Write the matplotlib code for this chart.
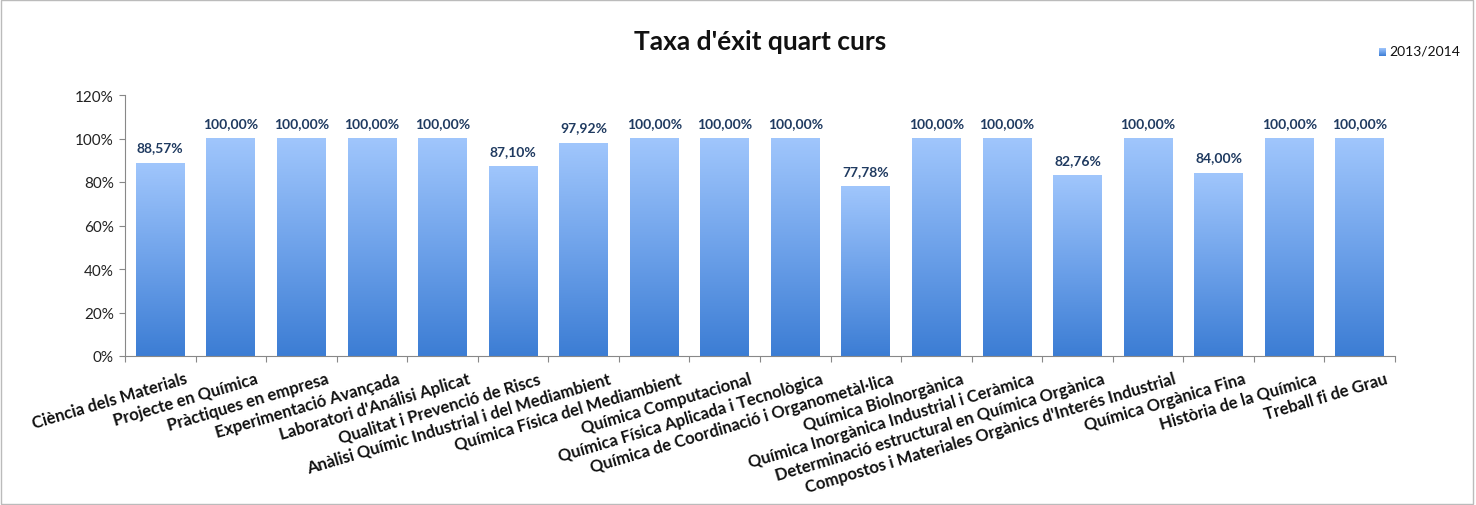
import numpy as np
import matplotlib
matplotlib.use("Agg")
import matplotlib.pyplot as plt
from matplotlib.colors import LinearSegmentedColormap
from matplotlib.patches import Rectangle

categories = ["Ciència dels Materials", "Projecte en Química", "Pràctiques en empresa",
              "Experimentació Avançada", "Laboratori d'Análisi Aplicat",
              "Qualitat i Prevenció de Riscs", "Anàlisi Químic Industrial i del Mediambient",
              "Química Física del Mediambient", "Química Computacional",
              "Química Física Aplicada i Tecnològica",
              "Química de Coordinació i Organometàl·lica", "Química Biolnorgànica",
              "Química Inorgànica Industrial i Ceràmica",
              "Determinació estructural en Química Orgànica",
              "Compostos i Materiales Orgànics d'Interés Industrial",
              "Química Orgànica Fina", "Història de la Química", "Treball fi de Grau"]
values = [88.57, 100.00, 100.00, 100.00, 100.00, 87.10, 97.92, 100.00, 100.00, 100.00,
          77.78, 100.00, 100.00, 82.76, 100.00, 84.00, 100.00, 100.00]
series_name = "2013/2014"
yticks = [0, 20, 40, 60, 80, 100, 120]

plt.rcParams['font.family'] = ['Lato', 'DejaVu Sans']

fig = plt.figure(figsize=(14.76, 5.06), dpi=100)
ax = fig.add_axes([125/1476, (506-357)/506, (1395-125)/1476, (357-96)/506])

cmap = LinearSegmentedColormap.from_list("g", ["#3C7DD4", "#6EA2EA", "#A0C6FC"])
grad = np.linspace(0, 1, 256).reshape(-1, 1)
width = 0.69
x = np.arange(len(categories))
for xi, v in zip(x, values):
    ax.imshow(grad, extent=[xi - width/2, xi + width/2, 0, v], origin='lower',
              cmap=cmap, aspect='auto', zorder=2)
    ax.text(xi, v + 4.5, f"{v:.2f}%".replace(".", ","), ha='center', va='bottom',
            fontsize=10, fontweight='bold', color='#1F3A60', zorder=3)

ax.set_xlim(-0.5, len(categories) - 0.5)
ax.set_ylim(0, 120)
ax.set_yticks(yticks)
ax.set_yticklabels([f"{t}%" for t in yticks], fontsize=11, color='#222222')
ax.set_xticks(np.arange(len(categories) + 1) - 0.5, minor=False)
ax.set_xticklabels([])
ax.tick_params(axis='x', length=4, color='#888888')
ax.tick_params(axis='y', length=4, color='#888888', pad=4)
for xi, c in zip(x, categories):
    ax.text(xi + 0.35, -6.5, c, rotation=16.5, rotation_mode='anchor', ha='right', va='top',
            fontsize=12, fontweight='bold', color='#111111', transform=ax.transData,
            clip_on=False)
for s in ['top', 'right']:
    ax.spines[s].set_visible(False)
ax.spines['left'].set_color('#888888')
ax.spines['bottom'].set_color('#888888')

fig.text(0.5 * (125 + 1395) / 1476, 1 - 42/506, "Taxa d'éxit quart curs", ha='center', va='center',
         fontsize=19, fontweight='bold', color='#111111')

# legend
lax = fig.add_axes([1379/1476, 1 - 57/506, 7/1476, 8/506])
lax.imshow(grad, cmap=cmap, aspect='auto', origin='lower')
lax.axis('off')
fig.text(1389/1476, 1 - 52/506, series_name, ha='left', va='center', fontsize=10, color='#111111')

fig.add_artist(Rectangle((0.001, 0.002), 0.997, 0.996, transform=fig.transFigure,
                         fill=False, edgecolor='#BBBBBB', linewidth=1))

fig.savefig("out.png", dpi=100)
